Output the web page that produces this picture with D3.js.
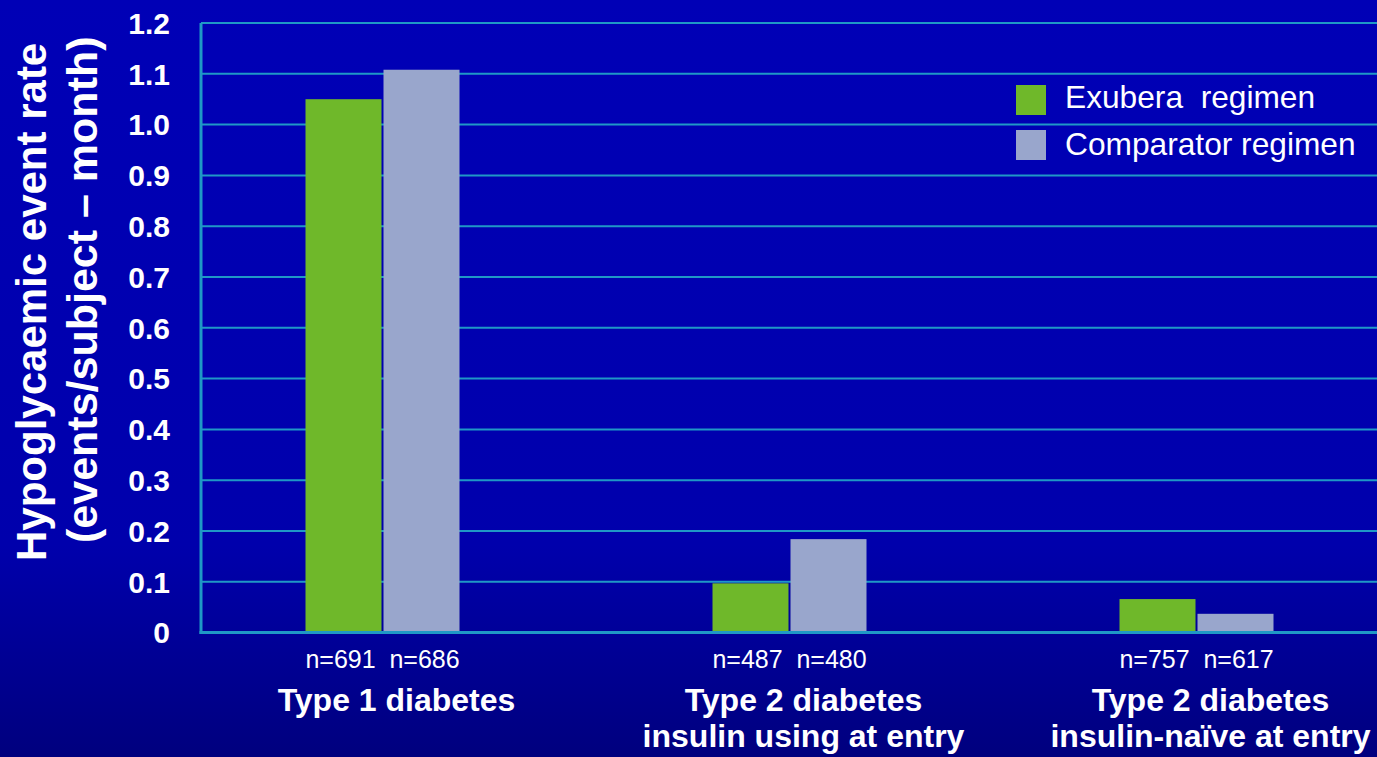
<!DOCTYPE html>
<html>
<head>
<meta charset="utf-8">
<script src="https://cdn.jsdelivr.net/npm/d3@7"></script>
<style>
  html, body { margin: 0; padding: 0; background: #0000b0; }
  svg { display: block; }
  text { font-family: Arial, "Liberation Sans", sans-serif; fill: #ffffff; }
</style>
</head>
<body>
<svg id="chart" width="1377" height="757"></svg>
<script>
const categories = ["Type 1 diabetes", "Type 2 diabetes insulin using at entry", "Type 2 diabetes insulin-naïve at entry"];
const categoryLines = [["Type 1 diabetes"], ["Type 2 diabetes", "insulin using at entry"], ["Type 2 diabetes", "insulin-naïve at entry"]];
const seriesNames = ["Exubera  regimen", "Comparator regimen"];
const exuberaValues = [1.05, 0.097, 0.066];
const comparatorValues = [1.108, 0.184, 0.037];
const exuberaN = ["n=691", "n=487", "n=757"];
const comparatorN = ["n=686", "n=480", "n=617"];
const yTicks = [0, 0.1, 0.2, 0.3, 0.4, 0.5, 0.6, 0.7, 0.8, 0.9, 1.0, 1.1, 1.2];
const yTickLabels = ["0", "0.1", "0.2", "0.3", "0.4", "0.5", "0.6", "0.7", "0.8", "0.9", "1.0", "1.1", "1.2"];
const yTitle = ["Hypoglycaemic event rate", "(events/subject \u2013 month)"];

const colors = ["#6fb82a", "#99a6cc"];
const gridColor = "#1f98c6";

const svg = d3.select("#chart");
const W = 1377, H = 757;

// background gradient
const defs = svg.append("defs");
const grad = defs.append("linearGradient").attr("id", "bg").attr("x1", 0).attr("y1", 0).attr("x2", 0).attr("y2", 1);
grad.append("stop").attr("offset", "0%").attr("stop-color", "#0000b6");
grad.append("stop").attr("offset", "72%").attr("stop-color", "#0000ac");
grad.append("stop").attr("offset", "100%").attr("stop-color", "#00007e");
svg.append("rect").attr("width", W).attr("height", H).attr("fill", "url(#bg)");

const axisX = 201, plotRight = 1377;
const y = d3.scaleLinear().domain([0, 1.2]).range([632.6, 23]);
const x = d3.scaleBand().domain(categories).range([179, 1400]).padding(0);
const barW = 76, gap = 2;
const cx = c => x(c) + x.bandwidth() / 2;

// gridlines
svg.append("g").selectAll("line").data(yTicks.filter(d => d > 0)).join("line")
  .attr("x1", axisX).attr("x2", plotRight)
  .attr("y1", d => y(d)).attr("y2", d => y(d))
  .attr("stroke", gridColor).attr("stroke-width", 2);

// bars
const series = [exuberaValues, comparatorValues];
series.forEach((vals, si) => {
  svg.append("g").selectAll("rect").data(categories).join("rect")
    .attr("x", c => cx(c) + (si === 0 ? -(barW + gap / 2) : gap / 2))
    .attr("width", barW)
    .attr("y", (c, i) => y(vals[i]))
    .attr("height", (c, i) => y(0) - y(vals[i]))
    .attr("fill", colors[si]);
});

// axes lines
svg.append("line").attr("x1", axisX).attr("x2", axisX).attr("y1", y(1.2)).attr("y2", y(0) + 1.5)
  .attr("stroke", gridColor).attr("stroke-width", 3);
svg.append("line").attr("x1", axisX - 1.5).attr("x2", plotRight).attr("y1", y(0)).attr("y2", y(0))
  .attr("stroke", gridColor).attr("stroke-width", 3);

// y tick labels
svg.append("g").selectAll("text").data(yTicks).join("text")
  .attr("x", 170).attr("y", d => y(d)).attr("dy", "0.36em")
  .attr("text-anchor", "end").attr("font-weight", "bold").attr("font-size", 30)
  .text((d, i) => yTickLabels[i]);

// y title
const titleStarts = [561, 543];
const titleBaselines = [46, 97];
const titleSizes = [42, 43];
yTitle.forEach((t, i) => {
  svg.append("text")
    .attr("transform", `translate(${titleBaselines[i]},${titleStarts[i]}) rotate(-90)`)
    .attr("text-anchor", "start").attr("font-weight", "bold").attr("font-size", titleSizes[i])
    .text(t);
});

// n labels
[exuberaN, comparatorN].forEach((labels, si) => {
  svg.append("g").selectAll("text").data(categories).join("text")
    .attr("x", c => cx(c) + (si === 0 ? -(barW / 2 + gap / 2) - 3 : barW / 2 + gap / 2 + 3))
    .attr("y", 668)
    .attr("text-anchor", "middle").attr("font-size", 25)
    .text((c, i) => labels[i]);
});

// category labels
categories.forEach((c, i) => {
  const t = svg.append("text").attr("text-anchor", "middle").attr("font-weight", "bold").attr("font-size", 32);
  categoryLines[i].forEach((line, li) => {
    t.append("tspan").attr("x", cx(c) + 14).attr("y", 711 + li * 36).text(line);
  });
});

// legend
const legend = svg.append("g");
seriesNames.forEach((name, i) => {
  legend.append("rect").attr("x", 1016).attr("y", 85 + i * 45).attr("width", 30).attr("height", 30).attr("fill", colors[i]);
  legend.append("text").attr("x", 1065).attr("y", 108 + i * 47).attr("font-size", 31.7)
    .style("white-space", "pre").text(name);
});
</script>
</body>
</html>
